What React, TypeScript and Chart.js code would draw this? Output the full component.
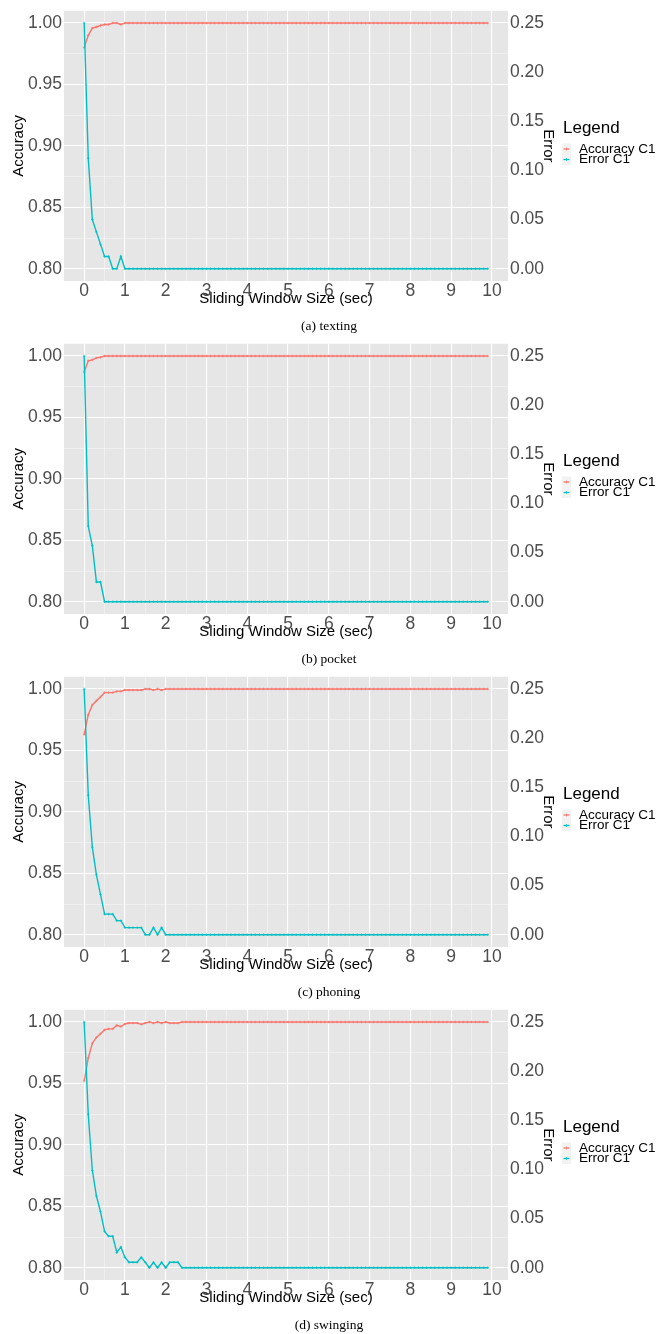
import React, { useEffect, useRef } from 'react';
import { Chart, registerables } from 'chart.js';

Chart.register(...registerables);

// ---------- data ----------
const windowSizes = [
  0, 0.1, 0.2, 0.3, 0.4, 0.5, 0.6, 0.7, 0.8, 0.9,
  1, 1.1, 1.2, 1.3, 1.4, 1.5, 1.6, 1.7, 1.8, 1.9,
  2, 2.1, 2.2, 2.3, 2.4, 2.5, 2.6, 2.7, 2.8, 2.9,
  3, 3.1, 3.2, 3.3, 3.4, 3.5, 3.6, 3.7, 3.8, 3.9,
  4, 4.1, 4.2, 4.3, 4.4, 4.5, 4.6, 4.7, 4.8, 4.9,
  5, 5.1, 5.2, 5.3, 5.4, 5.5, 5.6, 5.7, 5.8, 5.9,
  6, 6.1, 6.2, 6.3, 6.4, 6.5, 6.6, 6.7, 6.8, 6.9,
  7, 7.1, 7.2, 7.3, 7.4, 7.5, 7.6, 7.7, 7.8, 7.9,
  8, 8.1, 8.2, 8.3, 8.4, 8.5, 8.6, 8.7, 8.8, 8.9,
  9, 9.1, 9.2, 9.3, 9.4, 9.5, 9.6, 9.7, 9.8, 9.9,
];

const accuracyTexting = [
  0.98, 0.99, 0.9958, 0.9968, 0.998, 0.9988, 0.9988, 1, 1, 0.9988,
  1, 1, 1, 1, 1, 1, 1, 1, 1, 1,
  1, 1, 1, 1, 1, 1, 1, 1, 1, 1,
  1, 1, 1, 1, 1, 1, 1, 1, 1, 1,
  1, 1, 1, 1, 1, 1, 1, 1, 1, 1,
  1, 1, 1, 1, 1, 1, 1, 1, 1, 1,
  1, 1, 1, 1, 1, 1, 1, 1, 1, 1,
  1, 1, 1, 1, 1, 1, 1, 1, 1, 1,
  1, 1, 1, 1, 1, 1, 1, 1, 1, 1,
  1, 1, 1, 1, 1, 1, 1, 1, 1, 1,
];
const errorTexting = [
  0.25, 0.1125, 0.05, 0.0375, 0.025, 0.0125, 0.0125, 0, 0, 0.0125,
  0, 0, 0, 0, 0, 0, 0, 0, 0, 0,
  0, 0, 0, 0, 0, 0, 0, 0, 0, 0,
  0, 0, 0, 0, 0, 0, 0, 0, 0, 0,
  0, 0, 0, 0, 0, 0, 0, 0, 0, 0,
  0, 0, 0, 0, 0, 0, 0, 0, 0, 0,
  0, 0, 0, 0, 0, 0, 0, 0, 0, 0,
  0, 0, 0, 0, 0, 0, 0, 0, 0, 0,
  0, 0, 0, 0, 0, 0, 0, 0, 0, 0,
  0, 0, 0, 0, 0, 0, 0, 0, 0, 0,
];

const accuracyPocket = [
  0.987, 0.9961, 0.9969, 0.9985, 0.999, 1, 1, 1, 1, 1,
  1, 1, 1, 1, 1, 1, 1, 1, 1, 1,
  1, 1, 1, 1, 1, 1, 1, 1, 1, 1,
  1, 1, 1, 1, 1, 1, 1, 1, 1, 1,
  1, 1, 1, 1, 1, 1, 1, 1, 1, 1,
  1, 1, 1, 1, 1, 1, 1, 1, 1, 1,
  1, 1, 1, 1, 1, 1, 1, 1, 1, 1,
  1, 1, 1, 1, 1, 1, 1, 1, 1, 1,
  1, 1, 1, 1, 1, 1, 1, 1, 1, 1,
  1, 1, 1, 1, 1, 1, 1, 1, 1, 1,
];
const errorPocket = [
  0.25, 0.077, 0.057, 0.02, 0.02, 0, 0, 0, 0, 0,
  0, 0, 0, 0, 0, 0, 0, 0, 0, 0,
  0, 0, 0, 0, 0, 0, 0, 0, 0, 0,
  0, 0, 0, 0, 0, 0, 0, 0, 0, 0,
  0, 0, 0, 0, 0, 0, 0, 0, 0, 0,
  0, 0, 0, 0, 0, 0, 0, 0, 0, 0,
  0, 0, 0, 0, 0, 0, 0, 0, 0, 0,
  0, 0, 0, 0, 0, 0, 0, 0, 0, 0,
  0, 0, 0, 0, 0, 0, 0, 0, 0, 0,
  0, 0, 0, 0, 0, 0, 0, 0, 0, 0,
];

const accuracyPhoning = [
  0.963, 0.979, 0.987, 0.9904, 0.9936, 0.9971, 0.9971, 0.9971, 0.9981, 0.9981,
  0.9992, 0.9992, 0.9992, 0.9992, 0.9992, 1, 1, 0.9992, 1, 0.9992,
  1, 1, 1, 1, 1, 1, 1, 1, 1, 1,
  1, 1, 1, 1, 1, 1, 1, 1, 1, 1,
  1, 1, 1, 1, 1, 1, 1, 1, 1, 1,
  1, 1, 1, 1, 1, 1, 1, 1, 1, 1,
  1, 1, 1, 1, 1, 1, 1, 1, 1, 1,
  1, 1, 1, 1, 1, 1, 1, 1, 1, 1,
  1, 1, 1, 1, 1, 1, 1, 1, 1, 1,
  1, 1, 1, 1, 1, 1, 1, 1, 1, 1,
];
const errorPhoning = [
  0.25, 0.142, 0.089, 0.061, 0.041, 0.021, 0.021, 0.021, 0.0143, 0.0143,
  0.0072, 0.0072, 0.0072, 0.0072, 0.0072, 0, 0, 0.0072, 0, 0.0072,
  0, 0, 0, 0, 0, 0, 0, 0, 0, 0,
  0, 0, 0, 0, 0, 0, 0, 0, 0, 0,
  0, 0, 0, 0, 0, 0, 0, 0, 0, 0,
  0, 0, 0, 0, 0, 0, 0, 0, 0, 0,
  0, 0, 0, 0, 0, 0, 0, 0, 0, 0,
  0, 0, 0, 0, 0, 0, 0, 0, 0, 0,
  0, 0, 0, 0, 0, 0, 0, 0, 0, 0,
  0, 0, 0, 0, 0, 0, 0, 0, 0, 0,
];

const accuracySwinging = [
  0.952, 0.9707, 0.9827, 0.9875, 0.9904, 0.9936, 0.9944, 0.9944, 0.9973, 0.9963,
  0.9984, 0.9992, 0.9992, 0.9992, 0.9981, 0.9992, 1, 0.9992, 1, 0.9992,
  1, 0.9992, 0.9992, 0.9992, 1, 1, 1, 1, 1, 1,
  1, 1, 1, 1, 1, 1, 1, 1, 1, 1,
  1, 1, 1, 1, 1, 1, 1, 1, 1, 1,
  1, 1, 1, 1, 1, 1, 1, 1, 1, 1,
  1, 1, 1, 1, 1, 1, 1, 1, 1, 1,
  1, 1, 1, 1, 1, 1, 1, 1, 1, 1,
  1, 1, 1, 1, 1, 1, 1, 1, 1, 1,
  1, 1, 1, 1, 1, 1, 1, 1, 1, 1,
];
const errorSwinging = [
  0.25, 0.156, 0.099, 0.073, 0.057, 0.037, 0.032, 0.032, 0.0155, 0.021,
  0.0105, 0.0055, 0.0055, 0.0055, 0.0105, 0.0055, 0, 0.0055, 0, 0.0055,
  0, 0.0055, 0.0055, 0.0055, 0, 0, 0, 0, 0, 0,
  0, 0, 0, 0, 0, 0, 0, 0, 0, 0,
  0, 0, 0, 0, 0, 0, 0, 0, 0, 0,
  0, 0, 0, 0, 0, 0, 0, 0, 0, 0,
  0, 0, 0, 0, 0, 0, 0, 0, 0, 0,
  0, 0, 0, 0, 0, 0, 0, 0, 0, 0,
  0, 0, 0, 0, 0, 0, 0, 0, 0, 0,
  0, 0, 0, 0, 0, 0, 0, 0, 0, 0,
];

const xTickLabels = [0, 1, 2, 3, 4, 5, 6, 7, 8, 9, 10];
const accuracyTickLabels = [0.8, 0.85, 0.9, 0.95, 1.0];
const errorTickLabels = [0, 0.05, 0.1, 0.15, 0.2, 0.25];

const seriesNames = ['Accuracy C1', 'Error C1'];
const panels = [
  { caption: '(a) texting', accuracy: accuracyTexting, error: errorTexting },
  { caption: '(b) pocket', accuracy: accuracyPocket, error: errorPocket },
  { caption: '(c) phoning', accuracy: accuracyPhoning, error: errorPhoning },
  { caption: '(d) swinging', accuracy: accuracySwinging, error: errorSwinging },
];

// ---------- style ----------
const RED = '#F8766D';
const TEAL = '#00BFC4';
const SANS = '"Liberation Sans", Arial, Helvetica, sans-serif';
const SERIF = '"Liberation Serif", "Times New Roman", serif';
const W = 658;
const H = 333;

const near = (a: number, list: number[]) => list.some((v) => Math.abs(v - a) < 1e-6);

const bgPlugin = {
  id: 'panelBg',
  beforeDraw(chart: any) {
    const { ctx, chartArea: a } = chart;
    ctx.save();
    ctx.fillStyle = '#E6E6E6';
    ctx.fillRect(a.left, a.top, a.right - a.left, a.bottom - a.top);
    ctx.restore();
  },
};

const legendPlugin = {
  id: 'ggLegend',
  afterDraw(chart: any) {
    const ctx = chart.ctx;
    ctx.save();
    ctx.fillStyle = '#000000';
    ctx.textBaseline = 'middle';
    ctx.textAlign = 'left';
    ctx.font = `17px ${SANS}`;
    ctx.fillText('Legend', 563, 128);
    ctx.fillStyle = '#F2F2F2';
    ctx.fillRect(562, 143.5, 9, 21.5);
    const rows = [
      { y: 149, c: RED, t: seriesNames[0] },
      { y: 159.5, c: TEAL, t: seriesNames[1] },
    ];
    rows.forEach((r) => {
      ctx.strokeStyle = r.c;
      ctx.lineWidth = 1.3;
      ctx.beginPath();
      ctx.moveTo(563.5, r.y);
      ctx.lineTo(569.5, r.y);
      ctx.stroke();
      ctx.lineWidth = 0.7;
      ctx.beginPath();
      ctx.moveTo(566.5, r.y - 1.5);
      ctx.lineTo(566.5, r.y + 1.5);
      ctx.stroke();
      ctx.fillStyle = '#000000';
      ctx.font = `13.5px ${SANS}`;
      ctx.fillText(r.t, 579, r.y);
    });
    ctx.restore();
  },
};

function gridColor(list: number[]) {
  return (c: any) => (c.tick && near(c.tick.value, list) ? '#FFFFFF' : 'rgba(255,255,255,0.7)');
}
function gridWidth(list: number[]) {
  return (c: any) => (c.tick && near(c.tick.value, list) ? 1.1 : 0.6);
}

function Panel({ caption, accuracy, error }: { caption: string; accuracy: number[]; error: number[] }) {
  const ref = useRef<HTMLCanvasElement>(null);
  useEffect(() => {
    const chart = new Chart(ref.current as HTMLCanvasElement, {
      type: 'line',
      data: {
        datasets: [
          {
            label: seriesNames[1],
            data: windowSizes.map((x, i) => ({ x, y: error[i] })),
            yAxisID: 'y2',
            borderColor: TEAL,
            backgroundColor: TEAL,
            borderWidth: 1.4,
            pointStyle: 'cross',
            pointRadius: 1.3,
            pointBorderWidth: 0.7,
            pointBorderColor: TEAL,
            tension: 0,
            fill: false,
            order: 0,
          },
          {
            label: seriesNames[0],
            data: windowSizes.map((x, i) => ({ x, y: accuracy[i] })),
            yAxisID: 'y',
            borderColor: RED,
            backgroundColor: RED,
            borderWidth: 1.4,
            pointStyle: 'cross',
            pointRadius: 1.3,
            pointBorderWidth: 0.7,
            pointBorderColor: RED,
            tension: 0,
            fill: false,
            order: 1,
          },
        ],
      },
      options: {
        responsive: false,
        animation: false,
        events: [],
        layout: { autoPadding: false, padding: { top: 5, right: W - 557, bottom: 25, left: 0 } },
        plugins: { legend: { display: false }, tooltip: { enabled: false }, title: { display: false } },
        scales: {
          x: {
            type: 'linear',
            min: -0.495,
            max: 10.395,
            border: { display: false },
            grid: { color: gridColor(xTickLabels), lineWidth: gridWidth(xTickLabels), drawTicks: false },
            ticks: {
              stepSize: 0.5,
              includeBounds: false,
              autoSkip: false,
              maxRotation: 0,
              padding: 1,
              color: '#4D4D4D',
              font: { size: 17.5, family: SANS, lineHeight: 1 },
              callback: (v: any) => (near(Number(v), xTickLabels) ? String(Math.round(Number(v))) : ''),
            },
            title: {
              display: true,
              text: 'Sliding Window Size (sec)',
              color: '#000000',
              font: { size: 15, family: SANS, lineHeight: 1.2 },
              padding: { top: 0, bottom: 0 },
            },
            afterFit: (s: any) => {
              s.height = 27;
            },
          },
          y: {
            type: 'linear',
            position: 'left',
            min: 0.79,
            max: 1.01,
            border: { display: false },
            grid: { color: gridColor(accuracyTickLabels), lineWidth: gridWidth(accuracyTickLabels), drawTicks: false },
            ticks: {
              stepSize: 0.025,
              includeBounds: false,
              autoSkip: false,
              padding: 2,
              color: '#4D4D4D',
              font: { size: 17.5, family: SANS, lineHeight: 1 },
              callback: (v: any) => (near(Number(v), accuracyTickLabels) ? Number(v).toFixed(2) : ''),
            },
            title: {
              display: true,
              text: 'Accuracy',
              color: '#000000',
              font: { size: 15, family: SANS, lineHeight: 1.2 },
              padding: { top: 10, bottom: 0 },
            },
            afterFit: (s: any) => {
              s.width = 64;
            },
          },
          y2: {
            type: 'linear',
            position: 'right',
            min: -0.0125,
            max: 0.2625,
            border: { display: false },
            grid: { display: false, drawTicks: false },
            ticks: {
              stepSize: 0.05,
              includeBounds: false,
              autoSkip: false,
              padding: 2,
              color: '#4D4D4D',
              font: { size: 17.5, family: SANS, lineHeight: 1 },
              callback: (v: any) => (near(Number(v), errorTickLabels) ? Number(v).toFixed(2) : ''),
            },
            title: {
              display: true,
              text: 'Error',
              color: '#000000',
              font: { size: 15, family: SANS, lineHeight: 1.2 },
              padding: { top: 0, bottom: 0 },
            },
            afterFit: (s: any) => {
              s.width = 49;
            },
          },
        },
      } as any,
      plugins: [bgPlugin, legendPlugin],
    });
    return () => chart.destroy();
  }, []);

  return (
    <div style={{ position: 'relative', width: W, height: H }}>
      <canvas ref={ref} width={W} height={H} style={{ display: 'block', width: W, height: H }} />
      <div
        style={{
          position: 'absolute',
          left: 0,
          top: 318,
          width: W,
          textAlign: 'center',
          fontFamily: SERIF,
          fontSize: 13.5,
          lineHeight: '16px',
          color: '#000',
        }}
      >
        {caption}
      </div>
    </div>
  );
}

export default function App() {
  return (
    <div style={{ position: 'absolute', left: 0, top: 0, width: W, height: 1334, background: '#FFFFFF' }}>
      {panels.map((p) => (
        <Panel key={p.caption} caption={p.caption} accuracy={p.accuracy} error={p.error} />
      ))}
    </div>
  );
}
